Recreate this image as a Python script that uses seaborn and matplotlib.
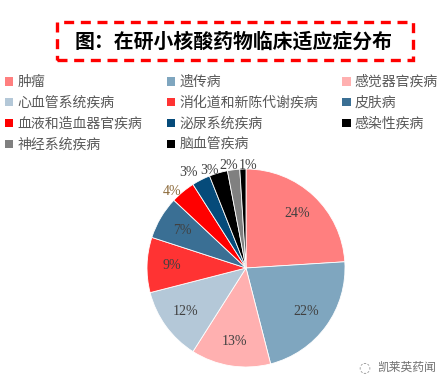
import numpy as np
import pandas as pd
import seaborn as sns
import matplotlib.pyplot as plt
from matplotlib.patches import Patch, Rectangle

# data
diseases = ['肿瘤', '遗传病', '感觉器官疾病', '心血管系统疾病', '消化道和新陈代谢疾病',
            '皮肤病', '血液和造血器官疾病', '泌尿系统疾病', '感染性疾病', '神经系统疾病', '脑血管疾病']
shares = [24, 22, 13, 12, 9, 7, 4, 3, 3, 2, 1]
colors = ['#FF7F7F', '#7FA6BF', '#FFB0B0', '#B4C8D8', '#FF3333',
          '#3A6F94', '#FF0000', '#064B7A', '#000000', '#808080', '#000000']

df = pd.DataFrame({'disease': diseases, 'share': shares})

sns.set_style('white')
plt.rcParams['font.family'] = ['Noto Sans CJK SC', 'DejaVu Sans']

W, H = 446, 386
fig = plt.figure(figsize=(W / 100, H / 100), dpi=100)

# pie axes: centre (246, 268), radius 99 px
cx, cy, r = 246, 268, 99
ax = fig.add_axes([(cx - r) / W, (H - cy - r) / H, 2 * r / W, 2 * r / H])
wedges, texts, autotexts = ax.pie(df['share'], colors=colors, startangle=90, counterclock=False,
                                  autopct='%1.0f%%', pctdistance=0.75,
                                  wedgeprops=dict(linewidth=0.6, edgecolor='white'),
                                  textprops=dict(family='Liberation Serif', fontsize=10, color='#404040'))
ax.set_xlim(-1, 1)
ax.set_ylim(-1, 1)
ax.set_aspect('equal')
ax.axis('off')

# small slices: labels pushed outside the rim (radius, angle shift in degrees)
outside = {6: (1.075, 4.6), 7: (1.13, 4), 8: (1.05, 4.5), 9: (1.055, 2.5), 10: (1.04, -3)}
for i, t in enumerate(autotexts):
    if i in outside:
        rad, shift = outside[i]
        w = wedges[i]
        ang = np.deg2rad((w.theta1 + w.theta2) / 2 + shift)
        t.set_position((rad * np.cos(ang), rad * np.sin(ang)))
        t.set_ha('center')
        t.set_va('center')
autotexts[6].set_color('#8C6A3A')

# title with red dashed frame
fig.patches.append(Rectangle((57 / W, 1 - 60 / H), (413 - 57) / W, 38 / H, transform=fig.transFigure,
                             fill=False, edgecolor='#FF0000', linestyle=(0, (3, 2)), linewidth=2.4))
fig.text(234 / W, 1 - 41 / H, '图：在研小核酸药物临床适应症分布', ha='center', va='center',
         fontsize=14.3, fontweight='bold', color='black')

# legend filled row-wise like the original
order = [0, 3, 6, 9, 1, 4, 7, 10, 2, 5, 8]
handles = [Patch(facecolor=colors[i], edgecolor='none') for i in order]
labels = [diseases[i] for i in order]
leg = fig.legend(handles, labels, ncol=3, loc='upper left', bbox_to_anchor=(5 / W, 1 - 75 / H),
                 frameon=False, fontsize=10, handlelength=0.6, handleheight=0.6, handletextpad=0.3,
                 columnspacing=1.75, labelspacing=0.5, borderaxespad=0, borderpad=0)
for t in leg.get_texts():
    t.set_color('#595959')

# watermark
fig.text(406 / W, 1 - 367 / H, '凯莱英药闻', ha='center', va='center', fontsize=8.5, color='#707070')
fig.text(364 / W, 1 - 367 / H, '◌', ha='center', va='center', fontsize=10, color='#909090',
         family='DejaVu Sans')

plt.savefig('out.png', dpi=100)
